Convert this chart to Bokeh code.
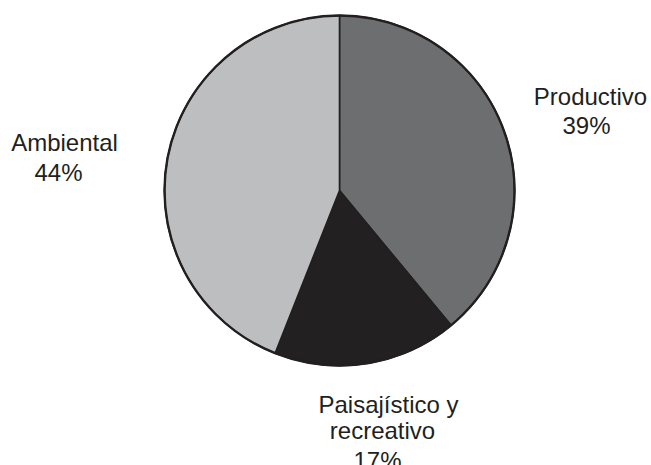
import math
from bokeh.plotting import figure
from bokeh.models import Range1d, ColumnDataSource
from bokeh.core.properties import value
from bokeh.embed import file_html
from bokeh.resources import INLINE

# Shares of each land-use function (percent)
categories = ["Productivo", "Paisajístico y recreativo", "Ambiental"]
shares = [39, 17, 44]
colors = ["#6d6e70", "#222021", "#bcbec0"]

W, H = 651, 465
cx, cy, r = 339, H - 190, 175

# Slices run clockwise from 12 o'clock
starts, ends = [], []
acc = 0.0
for s in shares:
    a0 = math.pi / 2 - 2 * math.pi * acc / 100
    acc += s
    a1 = math.pi / 2 - 2 * math.pi * acc / 100
    starts.append(a0)
    ends.append(a1)

src = ColumnDataSource(dict(start=starts, end=ends, color=colors))

p = figure(width=W, height=H, output_backend="svg", toolbar_location=None,
           x_range=Range1d(0, W), y_range=Range1d(0, H),
           min_border=0, outline_line_color=None)
p.axis.visible = False
p.grid.visible = False
p.background_fill_color = "white"

p.wedge(x=cx, y=cy, radius=r, start_angle="start", end_angle="end",
        direction="clock", fill_color="color", line_color="#231f20",
        line_width=1.6, source=src)
p.circle(x=cx, y=cy, radius=r, fill_color=None, line_color="#231f20",
         line_width=2.4)

# Labels: name lines and percentage, each centred on its own x
font = value("Liberation Sans")
labels = [
    # (text, x, vertical centre from top)
    ("Productivo", 590, 96),
    (f"{shares[0]}%", 586, 125),
    ("Paisajístico y", 388, 404),
    ("recreativo", 382, 430),
    (f"{shares[1]}%", 377, 460),
    ("Ambiental", 64, 142),
    (f"{shares[2]}%", 58, 172),
]
p.text(x=[l[1] for l in labels], y=[H - l[2] for l in labels],
       text=[l[0] for l in labels], text_font=font, text_font_size="24px",
       text_color="#231f20", text_align="center", text_baseline="middle")

open("out.html", "w").write(file_html(p, INLINE))
